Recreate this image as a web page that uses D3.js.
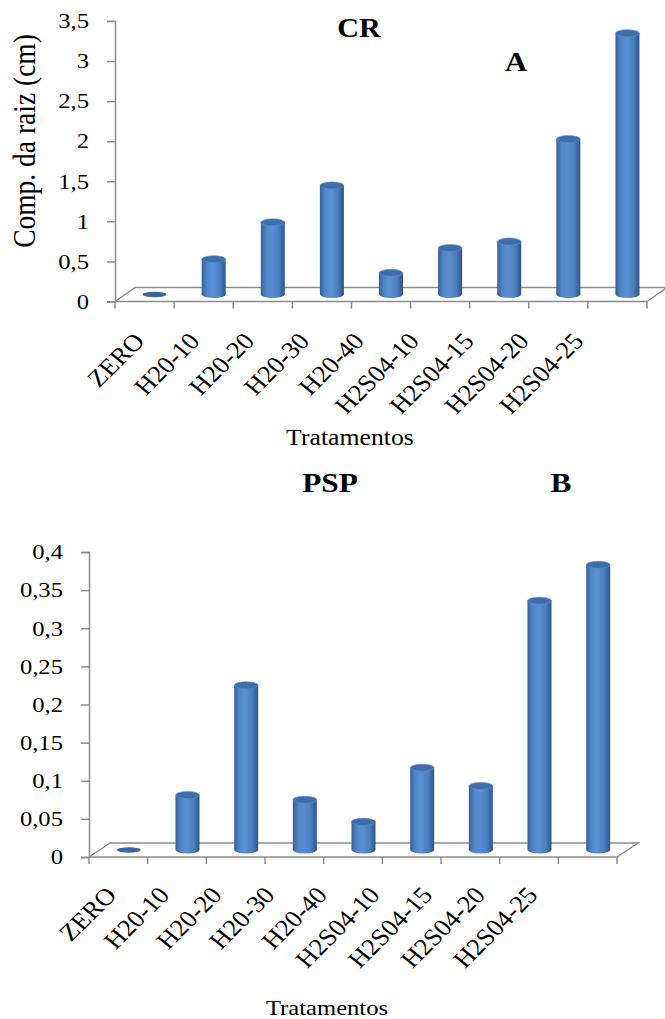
<!DOCTYPE html>
<html>
<head>
<meta charset="utf-8">
<script src="https://cdn.jsdelivr.net/npm/d3@7/dist/d3.min.js"></script>
<style>
  html, body { margin: 0; padding: 0; background: #fff; }
  svg text { font-family: "Liberation Serif", "Times New Roman", serif; fill: #000; }
</style>
</head>
<body>
<svg id="chart" width="665" height="1019"></svg>
<script>
const categories = ["ZERO", "H20-10", "H20-20", "H20-30", "H20-40", "H2S04-10", "H2S04-15", "H2S04-20", "H2S04-25"];
const crValues = [0, 0.44, 0.9, 1.36, 0.27, 0.58, 0.66, 1.94, 3.26];
const pspValues = [0, 0.072, 0.216, 0.066, 0.037, 0.108, 0.084, 0.327, 0.374];
const crTicks = [0, 0.5, 1, 1.5, 2, 2.5, 3, 3.5];
const pspTicks = [0, 0.05, 0.1, 0.15, 0.2, 0.25, 0.3, 0.35, 0.4];

const svg = d3.select("#chart");
const SX = 1.12; // source picture is stretched a bit horizontally
const fmt = v => String(+v.toFixed(2)).replace(".", ",");

const defs = svg.append("defs");
const grad = defs.append("linearGradient").attr("id", "cyl").attr("x1", 0).attr("x2", 1).attr("y1", 0).attr("y2", 0);
[["0%", "#35609a"], ["22%", "#4f86c8"], ["45%", "#5a90d3"], ["75%", "#4b7fc0"], ["100%", "#2b558c"]]
  .forEach(([o, c]) => grad.append("stop").attr("offset", o).attr("stop-color", c));

function stretchedText(g, x, y, txt, size, opts = {}) {
  return g.append("text")
    .attr("transform", `translate(${x},${y}) scale(${SX},1)` + (opts.rotate ? ` rotate(${opts.rotate})` : ""))
    .attr("text-anchor", opts.anchor || "middle")
    .attr("dy", opts.dy || 0)
    .style("font-size", size + "px")
    .style("font-weight", opts.bold ? "bold" : "normal")
    .text(txt);
}

function drawChart(cfg) {
  const g = svg.append("g");
  const x = d3.scaleBand().domain(categories).range([cfg.x0, cfg.x1]).padding(0);
  const y = d3.scaleLinear().domain([0, d3.max(cfg.ticks)]).range([cfg.yBase, cfg.yTop]);
  const labelX = d3.scalePoint().domain(categories).range(cfg.labelRange);
  const axisColor = "#8c8c8c";

  // floor
  const yb = y(0);
  g.append("path")
    .attr("d", `M${cfg.x0},${yb} L${cfg.x0 + cfg.dx},${yb - cfg.dy} L${cfg.x1 + cfg.dx},${yb - cfg.dy} L${cfg.x1},${yb}`)
    .attr("fill", "none").attr("stroke", axisColor).attr("stroke-width", 1.5);

  // y axis
  const yAxis = d3.axisLeft(y).tickValues(cfg.ticks).tickSize(8).tickFormat("");
  const ya = g.append("g").attr("transform", `translate(${cfg.x0},0)`).call(yAxis);
  ya.selectAll("path, line").attr("stroke", axisColor).attr("stroke-width", 1.5);
  cfg.ticks.forEach(t => stretchedText(g, cfg.tickRight, y(t), fmt(t), 22, { anchor: "end", dy: "0.33em" }));

  // x axis (front edge with ticks at category boundaries)
  const xa = g.append("g");
  xa.append("line").attr("x1", cfg.x0).attr("x2", cfg.x1).attr("y1", yb).attr("y2", yb)
    .attr("stroke", axisColor).attr("stroke-width", 1.5);
  const bounds = categories.map(c => x(c)).concat([cfg.x1]);
  xa.selectAll("line.tk").data(bounds).join("line").attr("class", "tk")
    .attr("x1", d => d).attr("x2", d => d).attr("y1", yb).attr("y2", yb + 7)
    .attr("stroke", axisColor).attr("stroke-width", 1.5);

  categories.forEach(c => stretchedText(g, labelX(c), cfg.labelY, c, 24, { anchor: "end", rotate: -48 }));

  // cylinders
  const w = 24, ry = 3.5;
  const bars = g.selectAll("g.bar").data(cfg.values.map((v, i) => ({ v, c: categories[i] }))).join("g").attr("class", "bar");
  bars.each(function (d) {
    const b = d3.select(this);
    const cx = x(d.c) + x.bandwidth() / 2 + cfg.dx / 2;
    const base = y(0) - cfg.dy / 2;
    const top = y(d.v) - cfg.dy / 2;
    if (d.v <= 0) {
      b.append("ellipse").attr("cx", cx).attr("cy", base).attr("rx", w / 2).attr("ry", ry - 0.8)
        .attr("fill", "#3a67a4");
      return;
    }
    b.append("ellipse").attr("cx", cx).attr("cy", base).attr("rx", w / 2).attr("ry", ry).attr("fill", "url(#cyl)");
    b.append("rect").attr("x", cx - w / 2).attr("y", top).attr("width", w).attr("height", base - top).attr("fill", "url(#cyl)");
    b.append("ellipse").attr("cx", cx).attr("cy", top).attr("rx", w / 2).attr("ry", ry)
      .attr("fill", "#3e6dab").attr("stroke", "#5b8dcb").attr("stroke-width", 0.6);
  });

  // axis titles
  stretchedText(g, cfg.xTitle[0], cfg.xTitle[1], "Tratamentos", cfg.xTitleSize);
  if (cfg.yTitle) stretchedText(g, 35, 141, cfg.yTitle, 27.5, { rotate: -90 });
  stretchedText(g, cfg.title[0], cfg.title[1], cfg.titleText, cfg.titleSize, { bold: true });
  stretchedText(g, cfg.letter[0], cfg.letter[1], cfg.letterText, cfg.letterSize, { bold: true });
}

drawChart({
  values: crValues, ticks: crTicks,
  x0: 115, x1: 647, yTop: 21, yBase: 301.5, dx: 20, dy: 14,
  tickRight: 89, labelRange: [146, 585], labelY: 342,
  xTitle: [350, 445], xTitleSize: 23,
  yTitle: "Comp. da raiz (cm)",
  title: [359, 37], titleText: "CR", titleSize: 27,
  letter: [516, 71], letterText: "A", letterSize: 28
});

drawChart({
  values: pspValues, ticks: pspTicks,
  x0: 89, x1: 617, yTop: 552, yBase: 857, dx: 21, dy: 14,
  tickRight: 63, labelRange: [118, 539], labelY: 896,
  xTitle: [327, 1015], xTitleSize: 22,
  yTitle: null,
  title: [330, 492], titleText: "PSP", titleSize: 28,
  letter: [561, 492], letterText: "B", letterSize: 28
});
</script>
</body>
</html>
